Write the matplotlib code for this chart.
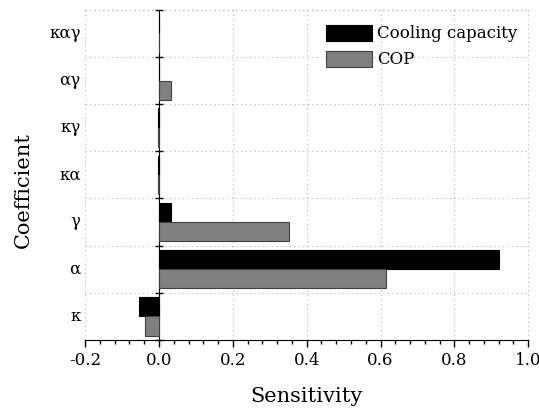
import numpy as np
import matplotlib.pyplot as plt
from matplotlib.ticker import MultipleLocator

coefficients = ["κ", "α", "γ", "κα", "κγ", "αγ", "καγ"]
cooling_capacity = [-0.054, 0.92, 0.033, -0.002, -0.003, 0.0, 0.0]
cop = [-0.038, 0.616, 0.353, -0.002, -0.003, 0.033, 0.0]

plt.rcParams['font.family'] = ['DejaVu Serif']

fig = plt.figure(figsize=(5.39, 4.09), dpi=100)
ax = fig.add_axes([0.158, 0.169, 0.822, 0.807])

y = np.arange(len(coefficients))
h = 0.41
ax.barh(y + h / 2, cooling_capacity, height=h, color="black", edgecolor="black",
        linewidth=0.8, label="Cooling capacity", zorder=3)
ax.barh(y - h / 2, cop, height=h, color="#808080", edgecolor="#404040",
        linewidth=0.8, label="COP", zorder=3)

ax.set_xlim(-0.2, 1.0)
ax.set_ylim(-0.5, len(coefficients) - 0.5)

# y axis line sits at zero, category labels stay on the far left
ax.spines['left'].set_position(('data', 0))
ax.spines['top'].set_visible(False)
ax.spines['right'].set_visible(False)
ax.set_yticks(np.arange(len(coefficients) + 1) - 0.5)
ax.set_yticklabels([])
ax.tick_params(axis='y', direction='inout', length=6, width=1)
for i, c in enumerate(coefficients):
    ax.text(-0.01, i, c, transform=ax.get_yaxis_transform(), ha='right',
            va='center', fontsize=12)

ax.xaxis.set_major_locator(MultipleLocator(0.2))
ax.xaxis.set_minor_locator(MultipleLocator(0.04))
ax.set_xticks(np.arange(-0.2, 1.01, 0.2))
ax.set_xticklabels(["-0.2", "0.0", "0.2", "0.4", "0.6", "0.8", "1.0"])
ax.tick_params(axis='x', which='major', direction='out', length=5, width=1,
               labelsize=12, pad=4)
ax.tick_params(axis='x', which='minor', direction='out', length=3, width=1)

ax.grid(True, which='major', linestyle=(0, (1, 3)), color='#b0b0b0',
        linewidth=0.8, zorder=0)
ax.axhline(len(coefficients) - 0.5, linestyle=(0, (1, 3)), color='#b0b0b0',
           linewidth=0.8, zorder=0, clip_on=False)
ax.axvline(1.0, linestyle=(0, (1, 3)), color='#b0b0b0', linewidth=0.8,
           zorder=0, clip_on=False)

ax.set_xlabel("Sensitivity", fontsize=15, labelpad=13)
ax.set_ylabel("Coefficient", fontsize=15)
ax.yaxis.set_label_coords(-0.117, 0.455)

ax.legend(loc='upper right', frameon=False, fontsize=12, handlelength=2.8,
          handleheight=1.1, handletextpad=0.3, labelspacing=0.5,
          bbox_to_anchor=(1.01, 1.0))

fig.savefig("out.png", dpi=100)
